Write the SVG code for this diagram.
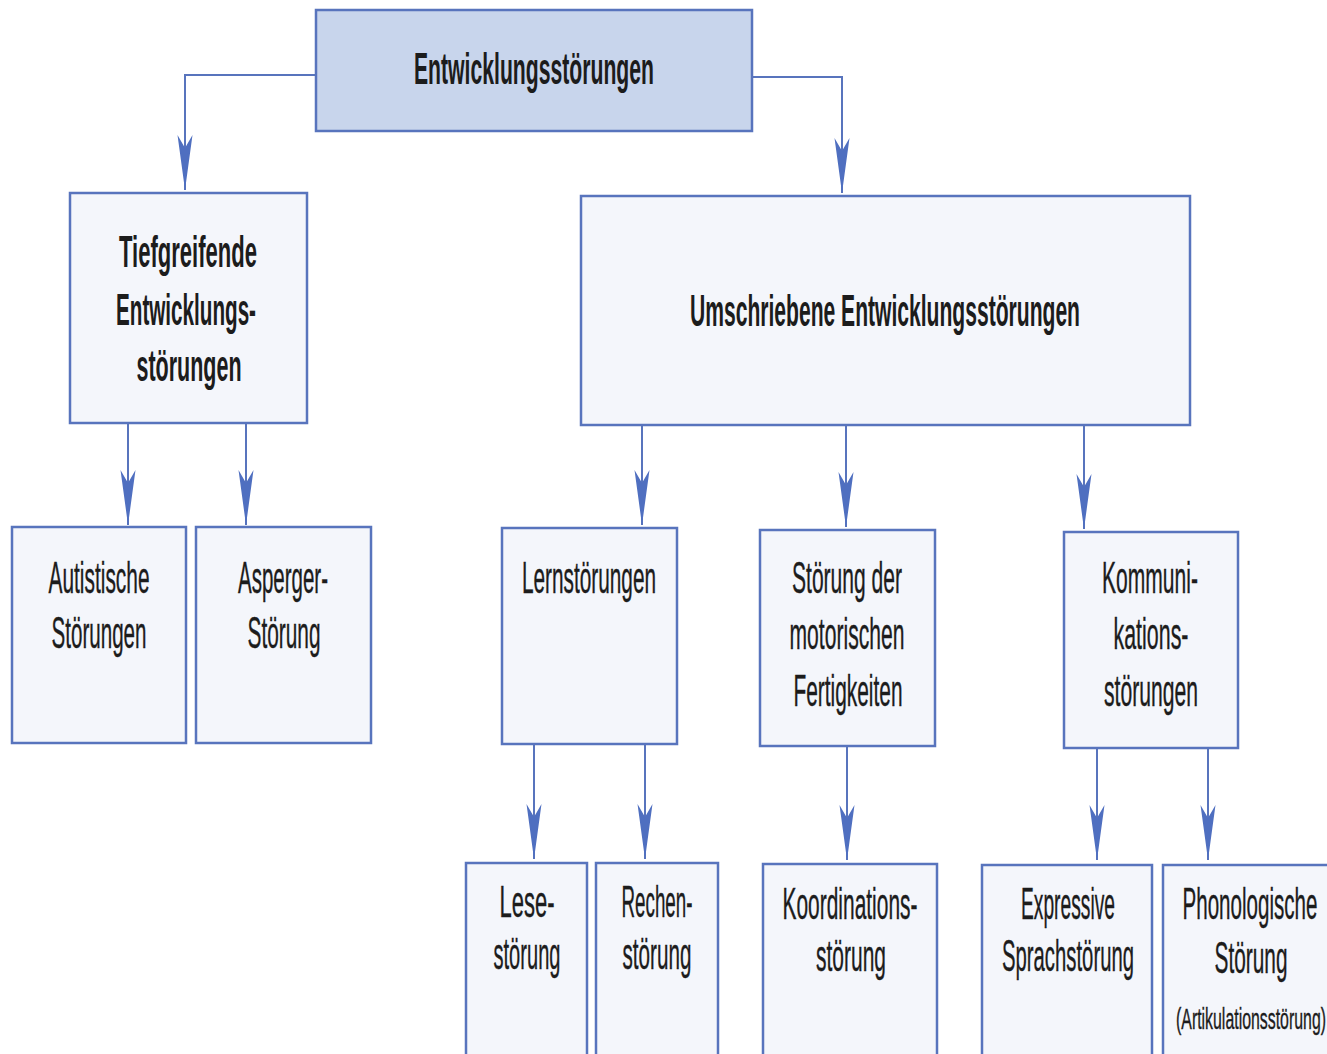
<svg xmlns="http://www.w3.org/2000/svg" width="1327" height="1054" viewBox="0 0 1327 1054">
<style>
.box{fill:#f4f6fb;stroke:#5874bd;stroke-width:2.5}
.top{fill:#c8d5ec;stroke:#5874bd;stroke-width:2.5}
.t{font-family:"Liberation Sans Narrow","Liberation Sans",Arial,sans-serif;font-size:44px;fill:#1c1c1c;stroke:#1c1c1c;stroke-width:0.4;text-anchor:middle}
.b{font-weight:bold;stroke-width:0}
.s{font-size:30px}
.c{fill:none;stroke:#5874bd;stroke-width:2}
</style>
<defs>
<marker id="ah" markerUnits="userSpaceOnUse" viewBox="0 -8 56 16" refX="55" refY="0" markerWidth="56" markerHeight="16" orient="auto">
<path d="M0,-7.5 L55,0 L0,7.5 L13,0 Z" fill="#4f6fc0"/>
</marker>
</defs>
<rect width="1327" height="1054" fill="#ffffff"/>
<g id="connectors">
<path class="c" d="M316,75 H185 V190" marker-end="url(#ah)"/>
<path class="c" d="M752,77 H842 V193" marker-end="url(#ah)"/>
<path class="c" d="M128,423 V525" marker-end="url(#ah)"/>
<path class="c" d="M246,423 V525" marker-end="url(#ah)"/>
<path class="c" d="M642,425 V525" marker-end="url(#ah)"/>
<path class="c" d="M846,425 V527" marker-end="url(#ah)"/>
<path class="c" d="M1084,425 V529" marker-end="url(#ah)"/>
<path class="c" d="M534,744 V859" marker-end="url(#ah)"/>
<path class="c" d="M645,744 V859" marker-end="url(#ah)"/>
<path class="c" d="M847,746 V860" marker-end="url(#ah)"/>
<path class="c" d="M1097,748 V860" marker-end="url(#ah)"/>
<path class="c" d="M1208,748 V860" marker-end="url(#ah)"/>
</g>
<g id="n-entwicklungsstoerungen">
<rect class="top" x="316" y="10" width="436" height="121"/>
<text class="t b" x="534" y="84" textLength="240" lengthAdjust="spacingAndGlyphs">Entwicklungsstörungen</text>
</g>
<g id="n-tiefgreifende">
<rect class="box" x="70" y="193" width="237" height="230"/>
<text class="t b" x="188" y="267" textLength="138" lengthAdjust="spacingAndGlyphs">Tiefgreifende</text>
<text class="t b" x="186" y="325" textLength="140" lengthAdjust="spacingAndGlyphs">Entwicklungs-</text>
<text class="t b" x="189" y="381" textLength="105" lengthAdjust="spacingAndGlyphs">störungen</text>
</g>
<g id="n-umschriebene">
<rect class="box" x="581" y="196" width="609" height="229"/>
<text class="t b" x="885" y="326" textLength="390" lengthAdjust="spacingAndGlyphs">Umschriebene Entwicklungsstörungen</text>
</g>
<g id="n-autistische">
<rect class="box" x="12" y="527" width="174" height="216"/>
<text class="t" x="99" y="593" textLength="101" lengthAdjust="spacingAndGlyphs">Autistische</text>
<text class="t" x="99" y="648" textLength="95" lengthAdjust="spacingAndGlyphs">Störungen</text>
</g>
<g id="n-asperger">
<rect class="box" x="196" y="527" width="175" height="216"/>
<text class="t" x="283" y="593" textLength="90" lengthAdjust="spacingAndGlyphs">Asperger-</text>
<text class="t" x="284" y="648" textLength="73" lengthAdjust="spacingAndGlyphs">Störung</text>
</g>
<g id="n-lernstoerungen">
<rect class="box" x="502" y="528" width="175" height="216"/>
<text class="t" x="589" y="593" textLength="134" lengthAdjust="spacingAndGlyphs">Lernstörungen</text>
</g>
<g id="n-motorisch">
<rect class="box" x="760" y="530" width="175" height="216"/>
<text class="t" x="847" y="593" textLength="110" lengthAdjust="spacingAndGlyphs">Störung der</text>
<text class="t" x="847" y="649" textLength="115" lengthAdjust="spacingAndGlyphs">motorischen</text>
<text class="t" x="848" y="706" textLength="109" lengthAdjust="spacingAndGlyphs">Fertigkeiten</text>
</g>
<g id="n-kommunikation">
<rect class="box" x="1064" y="532" width="174" height="216"/>
<text class="t" x="1150" y="593" textLength="96" lengthAdjust="spacingAndGlyphs">Kommuni-</text>
<text class="t" x="1151" y="649" textLength="75" lengthAdjust="spacingAndGlyphs">kations-</text>
<text class="t" x="1151" y="706" textLength="94" lengthAdjust="spacingAndGlyphs">störungen</text>
</g>
<g id="n-lese">
<rect class="box" x="466" y="863" width="121" height="200"/>
<text class="t" x="527" y="917" textLength="55" lengthAdjust="spacingAndGlyphs">Lese-</text>
<text class="t" x="527" y="969" textLength="67" lengthAdjust="spacingAndGlyphs">störung</text>
</g>
<g id="n-rechen">
<rect class="box" x="596" y="863" width="122" height="200"/>
<text class="t" x="657" y="917" textLength="71" lengthAdjust="spacingAndGlyphs">Rechen-</text>
<text class="t" x="657" y="969" textLength="69" lengthAdjust="spacingAndGlyphs">störung</text>
</g>
<g id="n-koordination">
<rect class="box" x="763" y="864" width="174" height="200"/>
<text class="t" x="850" y="919" textLength="135" lengthAdjust="spacingAndGlyphs">Koordinations-</text>
<text class="t" x="851" y="971" textLength="70" lengthAdjust="spacingAndGlyphs">störung</text>
</g>
<g id="n-expressive">
<rect class="box" x="982" y="865" width="170" height="200"/>
<text class="t" x="1068" y="919" textLength="94" lengthAdjust="spacingAndGlyphs">Expressive</text>
<text class="t" x="1068" y="971" textLength="132" lengthAdjust="spacingAndGlyphs">Sprachstörung</text>
</g>
<g id="n-phonologische">
<rect class="box" x="1163" y="865" width="180" height="200"/>
<text class="t" x="1250" y="919" textLength="135" lengthAdjust="spacingAndGlyphs">Phonologische</text>
<text class="t" x="1251" y="973" textLength="73" lengthAdjust="spacingAndGlyphs">Störung</text>
<text class="t s" x="1251" y="1029" textLength="150" lengthAdjust="spacingAndGlyphs">(Artikulationsstörung)</text>
</g>
</svg>
